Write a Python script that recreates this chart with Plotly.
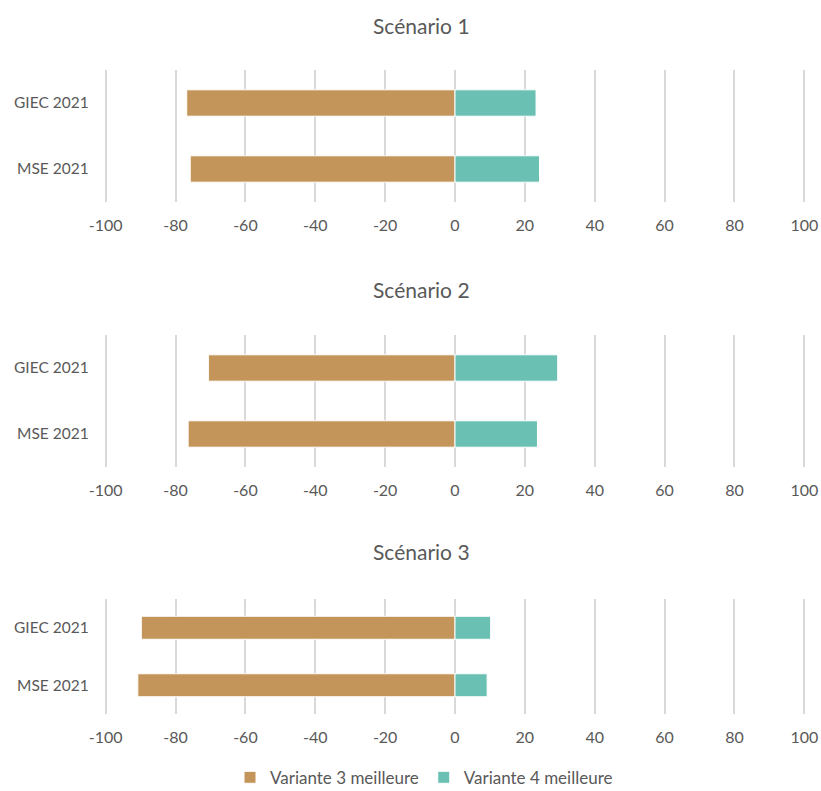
import plotly.graph_objects as go

# Share of results where each variant performs better, per reference study
categories = ["GIEC 2021", "MSE 2021"]
scenarios = ["Scénario 1", "Scénario 2", "Scénario 3"]
variante3 = [
    [-76.8, -75.8],
    [-70.6, -76.4],
    [-89.8, -90.8],
]
variante4 = [
    [23.2, 24.2],
    [29.4, 23.6],
    [10.2, 9.2],
]
tick_values = [-100, -80, -60, -40, -20, 0, 20, 40, 60, 80, 100]
tick_labels = ["-100", "-80", "-60", "-40", "-20", "0", "20", "40", "60", "80", "100"]

W, H = 821, 791
FONT = "Lato"
TEXT = "#595959"
BROWN = "#C4955A"
TEAL = "#69C0B3"
GRID = "#D9D9D9"

# panel extents in pixels (top, bottom) and title positions
panels_px = [(70, 202), (335, 467), (599, 714)]
titles_px = [26, 289, 551]
x_dom = [98.7 / W, 811.3 / W]

fig = go.Figure()
for i, name in enumerate(scenarios):
    sfx = "" if i == 0 else str(i + 1)
    fig.add_trace(go.Bar(
        y=categories, x=variante3[i], orientation="h",
        name="Variante 3 meilleure", marker=dict(color=BROWN, line=dict(color="white", width=1)),
        xaxis="x" + sfx, yaxis="y" + sfx, showlegend=(i == 0), legendgroup="v3",
        hoverinfo="x+y",
    ))
    fig.add_trace(go.Bar(
        y=categories, x=variante4[i], orientation="h",
        name="Variante 4 meilleure", marker=dict(color=TEAL, line=dict(color="white", width=1)),
        xaxis="x" + sfx, yaxis="y" + sfx, showlegend=(i == 0), legendgroup="v4",
        hoverinfo="x+y",
    ))

    top, bot = panels_px[i]
    fig.layout["xaxis" + sfx] = dict(
        domain=x_dom, anchor="y" + sfx, range=[-102, 102], automargin=False,
        tickvals=tick_values, ticktext=tick_labels,
        showgrid=True, gridcolor=GRID, gridwidth=1.5,
        zeroline=False, showline=False, ticks="",
        tickfont=dict(family=FONT, size=16, color=TEXT), ticklabelstandoff=12,
    )
    fig.layout["yaxis" + sfx] = dict(
        domain=[1 - bot / H, 1 - top / H], anchor="x" + sfx, automargin=False,
        categoryorder="array", categoryarray=categories[::-1],
        showgrid=False, zeroline=False, showline=False, ticks="",
        tickfont=dict(family=FONT, size=15.5, color=TEXT), ticklabelstandoff=9,
    )
    fig.add_annotation(
        text=name, x=421 / W, y=1 - titles_px[i] / H, xref="paper", yref="paper",
        xanchor="center", yanchor="middle", showarrow=False,
        font=dict(family=FONT, size=21, color=TEXT),
    )

fig.update_layout(
    width=W, height=H, barmode="relative", bargap=0.6,
    margin=dict(l=0, r=0, t=0, b=0, autoexpand=False),
    paper_bgcolor="white", plot_bgcolor="white",
    font=dict(family=FONT, color=TEXT),
    legend=dict(
        orientation="h", x=424 / W, xanchor="center", y=-0.006, yanchor="bottom",
        font=dict(family=FONT, size=17, color=TEXT), itemwidth=30,
        traceorder="normal",
    ),
)

fig.write_html("out.html", post_script="document.body.style.margin = '0';")
